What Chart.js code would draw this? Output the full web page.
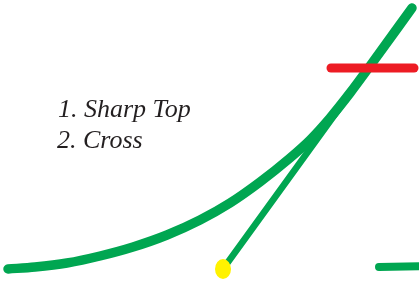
<!DOCTYPE html>
<html>
<head>
<meta charset="utf-8">
<script src="https://cdn.jsdelivr.net/npm/chart.js@4.4.1/dist/chart.umd.min.js"></script>
<style>
  html, body { margin: 0; padding: 0; background: #ffffff; }
  #wrap { width: 419px; height: 289px; position: relative; }
</style>
</head>
<body>
<div id="wrap"><canvas id="c" width="419" height="289"></canvas></div>
<script>
// Data (x in horizontal units, y in vertical units, origin bottom-left)
const curveX = [8, 35, 67, 100, 133, 167, 200, 230, 260, 290, 310, 330, 350, 370, 412];
const curveY = [20, 22, 26, 33, 42, 54, 69, 86, 107, 131, 149, 171, 196, 223, 281];
const crossX = [223, 412];
const crossY = [20, 281];
const topLevelX = [331, 414];
const topLevelY = [221, 221];
const baseLevelX = [379, 430];
const baseLevelY = [22, 23];
const dotX = [223];
const dotY = [20];
const labels = ['1. Sharp Top', '2. Cross'];

const GREEN = '#00a651', RED = '#ed1c24', YELLOW = '#fff200', TEXT = '#231f20';

function pts(xs, ys) { return xs.map((x, i) => ({ x: x, y: ys[i] })); }

// ellipse point style for the yellow dot
const dotCanvas = document.createElement('canvas');
dotCanvas.width = 18; dotCanvas.height = 22;
(function () {
  const g = dotCanvas.getContext('2d');
  g.fillStyle = YELLOW;
  g.beginPath();
  g.ellipse(9, 11, 8, 10, 0, 0, Math.PI * 2);
  g.fill();
})();

const textPlugin = {
  id: 'legendText',
  afterDraw(chart) {
    const ctx = chart.ctx;
    ctx.save();
    ctx.fillStyle = TEXT;
    ctx.font = 'italic 26px "Liberation Serif", "DejaVu Serif", serif';
    ctx.textBaseline = 'alphabetic';
    ctx.fillText(labels[0], 58, 117);
    ctx.fillText(labels[1], 57, 148);
    ctx.restore();
  }
};

new Chart(document.getElementById('c'), {
  type: 'scatter',
  data: {
    datasets: [
      { data: pts(curveX, curveY), showLine: true, borderColor: GREEN, borderWidth: 9.5,
        borderCapStyle: 'round', borderJoinStyle: 'round', cubicInterpolationMode: 'monotone',
        pointRadius: 0, order: 3 },
      { data: pts(crossX, crossY), showLine: true, borderColor: GREEN, borderWidth: 6.5,
        borderCapStyle: 'round', pointRadius: 0, order: 4 },
      { data: pts(topLevelX, topLevelY), showLine: true, borderColor: RED, borderWidth: 9,
        borderCapStyle: 'round', pointRadius: 0, order: 2 },
      { data: pts(baseLevelX, baseLevelY), showLine: true, borderColor: GREEN, borderWidth: 8,
        borderCapStyle: 'round', pointRadius: 0, order: 2 },
      { data: pts(dotX, dotY), showLine: false, pointStyle: dotCanvas, pointRadius: 9,
        order: 0 }
    ]
  },
  options: {
    responsive: false,
    animation: false,
    events: [],
    layout: { padding: 0, autoPadding: false },
    plugins: { legend: { display: false }, tooltip: { enabled: false } },
    scales: {
      x: { type: 'linear', min: 0, max: 419, display: false },
      y: { type: 'linear', min: 0, max: 289, display: false }
    },
    elements: { line: { tension: 0 } }
  },
  plugins: [textPlugin]
});
</script>
</body>
</html>
